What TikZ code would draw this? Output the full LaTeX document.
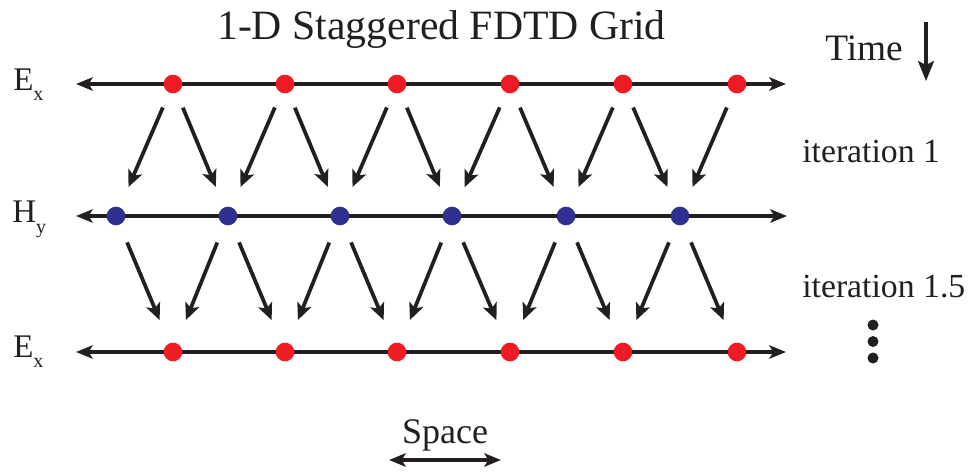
\documentclass[tikz,border=0pt]{standalone}
\usepackage{fontspec}
\setmainfont{Liberation Serif}
\usetikzlibrary{arrows.meta}
\definecolor{ink}{HTML}{231F20}
\definecolor{ered}{HTML}{ED1C24}
\definecolor{hblue}{HTML}{2E3192}
\begin{document}
\begin{tikzpicture}[x=0.75pt,y=-0.75pt,
  axisline/.style={draw=ink, line width=2.6pt,
    {Stealth[length=12.5pt,width=10pt,inset=3pt]}-{Stealth[length=12.5pt,width=10pt,inset=3pt]}},
  edotnode/.style={circle, inner sep=0pt, minimum size=14pt, fill=ered},
  hdotnode/.style={circle, inner sep=0pt, minimum size=14pt, fill=hblue},
  flowbase/.style={draw=ink, line width=2.8pt, -{Stealth[length=12.5pt,width=11pt,inset=3pt]}},
  flowtop/.style={flowbase, shorten <=12pt, shorten >=16.5pt},
  flowbot/.style={flowbase, shorten <=14.25pt, shorten >=18.75pt},
  fieldlabel/.style={anchor=base west, inner sep=0pt, font=\fontsize{24.75}{26}\selectfont, text=ink},
  sidelabel/.style={anchor=base west, inner sep=0pt, font=\fontsize{25.3}{27}\selectfont, text=ink},
  vdotnode/.style={circle, inner sep=0pt, minimum size=8.25pt, fill=ink}
]
\useasboundingbox (0,0) rectangle (971,472);

% axis end points
\coordinate (etl) at (76,84);  \coordinate (etr) at (786,84);
\coordinate (hl)  at (76,216); \coordinate (hr)  at (787,216);
\coordinate (ebl) at (76,352); \coordinate (ebr) at (786,352);
\draw[axisline] (etl) -- (etr);
\draw[axisline] (hl) -- (hr);
\draw[axisline] (ebl) -- (ebr);

% dots
\foreach \i/\xe/\xh in {1/173/116, 2/285/228, 3/397/340, 4/510/452, 5/623/566, 6/737/680} {
  \node[edotnode] (e\i) at (\xe,84) {};
  \node[hdotnode] (h\i) at (\xh,216) {};
  \node[edotnode] (b\i) at (\xe,352) {};
}

% top band: E -> H
\foreach \i in {1,...,6} { \draw[flowtop] (e\i) -- (h\i); }
\foreach \i/\j in {1/2, 2/3, 3/4, 4/5, 5/6} { \draw[flowtop] (e\i) -- (h\j); }

% bottom band: H -> E
\foreach \i in {1,...,6} { \draw[flowbot] (h\i) -- (b\i); }
\foreach \i/\j in {2/1, 3/2, 4/3, 5/4, 6/5} { \draw[flowbot] (h\i) -- (b\j); }

% field labels
\node[fieldlabel] (lbE1) at (13,90.5) {E\raisebox{-7.5pt}{\fontsize{15}{15}\selectfont x}};
\node[fieldlabel] (lbH)  at (12,222)  {H\raisebox{-8.5pt}{\fontsize{15}{15}\selectfont y}};
\node[fieldlabel] (lbE2) at (13,357)  {E\raisebox{-7.5pt}{\fontsize{15}{15}\selectfont x}};

% title
\node[anchor=base, inner sep=0pt, font=\fontsize{31.3}{33}\selectfont, text=ink] (title) at (441.5,39) {1-D Staggered FDTD Grid};

% time
\node[anchor=base west, inner sep=0pt, font=\fontsize{28}{30}\selectfont, text=ink] (time) at (825,60) {Time};
\coordinate (tTop) at (926,22); \coordinate (tBot) at (926,81);
\draw[draw=ink, line width=2.3pt, -{Stealth[length=15pt,width=12pt,inset=3pt]}] (tTop) -- (tBot);

% iterations
\node[sidelabel] (it1)  at (802,162) {iteration 1};
\node[sidelabel] (it15) at (802,297) {iteration 1.5};

% vertical dots
\node[vdotnode] (vd1) at (873,325) {};
\node[vdotnode] (vd2) at (873,341.5) {};
\node[vdotnode] (vd3) at (873,358) {};

% space
\node[anchor=base, inner sep=0pt, font=\fontsize{27}{29}\selectfont, text=ink] (space) at (445,443) {Space};
\coordinate (sL) at (389,460); \coordinate (sR) at (501,460);
\draw[draw=ink, line width=2.6pt,
  {Stealth[length=12.5pt,width=10pt,inset=3pt]}-{Stealth[length=12.5pt,width=10pt,inset=3pt]}] (sL) -- (sR);
\end{tikzpicture}
\end{document}
